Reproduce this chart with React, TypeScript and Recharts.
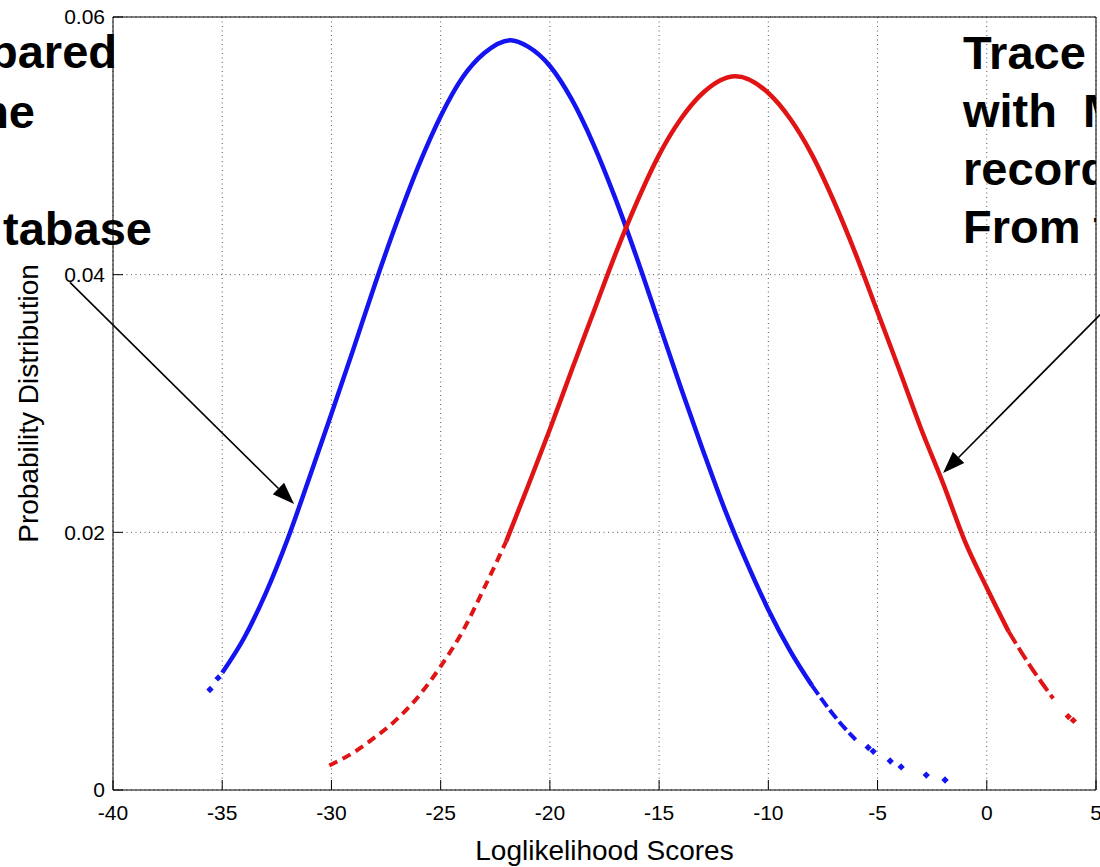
import {
  CartesianGrid,
  ComposedChart,
  Label,
  Line,
  ReferenceLine,
  Scatter,
  XAxis,
  YAxis,
} from "recharts";

const X_TICKS = [-40, -35, -30, -25, -20, -15, -10, -5, 0, 5];
const Y_TICKS = [0, 0.02, 0.04, 0.06];

// blue: compared against the database
const BLUE_LINE = [
  { x: -35, y: 0.0091 },
  { x: -34, y: 0.0118 },
  { x: -33, y: 0.0153 },
  { x: -32, y: 0.0195 },
  { x: -31, y: 0.0243 },
  { x: -30, y: 0.0292 },
  { x: -29, y: 0.0342 },
  { x: -28, y: 0.0393 },
  { x: -27, y: 0.0441 },
  { x: -26, y: 0.0485 },
  { x: -25, y: 0.0523 },
  { x: -24, y: 0.0553 },
  { x: -23, y: 0.0572 },
  { x: -21.8, y: 0.0582 },
  { x: -21, y: 0.0577 },
  { x: -20, y: 0.0562 },
  { x: -19, y: 0.0536 },
  { x: -18, y: 0.0501 },
  { x: -17, y: 0.0459 },
  { x: -16, y: 0.0412 },
  { x: -15, y: 0.0362 },
  { x: -14, y: 0.0312 },
  { x: -13, y: 0.0264 },
  { x: -12, y: 0.0218 },
  { x: -11, y: 0.0177 },
  { x: -10, y: 0.014 },
  { x: -9, y: 0.0108 },
  { x: -8, y: 0.0081 },
];
const BLUE_TAIL = [
  { x: -8, y: 0.0081 },
  { x: -7, y: 0.0058 },
  { x: -6.5, y: 0.0048 },
  { x: -6, y: 0.0039 },
];
const BLUE_DOTS = [
  { x: -35.56, y: 0.0078 },
  { x: -35.19, y: 0.0087 },
  { x: -5.43, y: 0.0033 },
  { x: -5.2, y: 0.003 },
  { x: -4.42, y: 0.00225 },
  { x: -3.92, y: 0.00179 },
  { x: -2.77, y: 0.00116 },
  { x: -1.91, y: 0.00078 },
];

// red: trace recorded
const RED_SPARSE = [
  { x: -30.1, y: 0.0019 },
  { x: -29, y: 0.0029 },
  { x: -28, y: 0.0041 },
  { x: -27, y: 0.0055 },
  { x: -26, y: 0.0073 },
  { x: -25, y: 0.0096 },
  { x: -24, y: 0.0123 },
  { x: -23, y: 0.0157 },
  { x: -22, y: 0.0193 },
];
const RED_LINE = [
  { x: -22, y: 0.0193 },
  { x: -21, y: 0.0236 },
  { x: -20, y: 0.028 },
  { x: -19, y: 0.0326 },
  { x: -18, y: 0.0371 },
  { x: -17, y: 0.0416 },
  { x: -16, y: 0.0457 },
  { x: -15, y: 0.0493 },
  { x: -14, y: 0.0521 },
  { x: -13, y: 0.0541 },
  { x: -11.5, y: 0.0554 },
  { x: -10, y: 0.0541 },
  { x: -9, y: 0.0521 },
  { x: -8, y: 0.0493 },
  { x: -7, y: 0.0457 },
  { x: -6, y: 0.0416 },
  { x: -5, y: 0.0371 },
  { x: -4, y: 0.0326 },
  { x: -3, y: 0.028 },
  { x: -2, y: 0.0238 },
  { x: -1, y: 0.0193 },
  { x: 0, y: 0.0157 },
  { x: 1, y: 0.0123 },
];
const RED_TAIL = [
  { x: 1, y: 0.0123 },
  { x: 2, y: 0.0096 },
  { x: 3.04, y: 0.0071 },
];
const RED_DOTS = [
  { x: 3.73, y: 0.0057 },
  { x: 3.96, y: 0.0054 },
];

const LEFT_NOTE = ["pared", "he", "", "tabase"];
const RIGHT_NOTE = ["Trace", "with  M", "record", "From t"];

const LEFT_ARROW = [
  { x: -41.97, y: 0.0394 },
  { x: -31.71, y: 0.0222 },
];
const RIGHT_ARROW = [
  { x: 5.19, y: 0.0369 },
  { x: -2.0, y: 0.0246 },
];

const BLUE = "#1414f0";
const RED = "#e01414";
const FONT = "'Liberation Sans', Arial, Helvetica, sans-serif";

function Arrow(props: any) {
  const { x1, y1, x2, y2 } = props;
  const a = Math.atan2(y2 - y1, x2 - x1);
  const len = 22;
  const hw = 8;
  const bx = x2 - len * Math.cos(a);
  const by = y2 - len * Math.sin(a);
  const px = -Math.sin(a) * hw;
  const py = Math.cos(a) * hw;
  return (
    <g>
      <line x1={x1} y1={y1} x2={bx} y2={by} stroke="#000" strokeWidth={1.6} />
      <polygon
        points={`${x2},${y2} ${bx + px},${by + py} ${bx - px},${by - py}`}
        fill="#000"
      />
    </g>
  );
}

const diamond = (color: string) => (p: any) =>
  (
    <rect
      x={p.cx - 2.6}
      y={p.cy - 2.6}
      width={5.2}
      height={5.2}
      fill={color}
      transform={`rotate(45 ${p.cx} ${p.cy})`}
    />
  );

const fmtY = (v: number) => (v === 0 ? "0" : v.toFixed(2));

export default function App() {
  const tickStyle = { fontSize: 21, fill: "#000", fontFamily: FONT };
  return (
    <div
      style={{
        position: "absolute",
        left: 0,
        top: 0,
        width: 1100,
        height: 867,
        background: "#fff",
        fontFamily: FONT,
      }}
    >
      <ComposedChart
        width={1100}
        height={867}
        margin={{ top: 16, right: 3, bottom: 0, left: 0 }}
      >
        <CartesianGrid stroke="#555" strokeDasharray="1 3.5" />
        <XAxis
          dataKey="x"
          type="number"
          domain={[-40, 5]}
          ticks={X_TICKS}
          interval={0}
          allowDataOverflow
          height={77}
          tickSize={-10}
          tickMargin={25}
          tick={tickStyle}
          stroke="#000"
        >
          <Label
            value="Loglikelihood Scores"
            position="insideBottom"
            offset={7}
            fontSize={28}
            fill="#000"
          />
        </XAxis>
        <XAxis
          xAxisId="top"
          orientation="top"
          dataKey="x"
          type="number"
          domain={[-40, 5]}
          ticks={X_TICKS}
          interval={0}
          allowDataOverflow
          height={1}
          tickSize={-10}
          tick={false}
          stroke="#000"
        />
        <YAxis
          type="number"
          domain={[0, 0.06]}
          ticks={Y_TICKS}
          interval={0}
          allowDataOverflow
          width={113}
          tickSize={-10}
          tickMargin={18}
          tickFormatter={fmtY}
          tick={tickStyle}
          stroke="#000"
        >
          <Label
            value="Probability Distribution"
            angle={-90}
            position="insideLeft"
            offset={28}
            fontSize={28}
            fill="#000"
            style={{ textAnchor: "middle" }}
          />
        </YAxis>
        <YAxis
          yAxisId="right"
          orientation="right"
          type="number"
          domain={[0, 0.06]}
          ticks={Y_TICKS}
          interval={0}
          allowDataOverflow
          width={1}
          tickSize={-10}
          tick={false}
          stroke="#000"
        />
        <Line
          data={BLUE_LINE}
          dataKey="y"
          type="monotone"
          stroke={BLUE}
          strokeWidth={4.5}
          dot={false}
          isAnimationActive={false}
        />
        <Line
          data={BLUE_TAIL}
          dataKey="y"
          type="monotone"
          stroke={BLUE}
          strokeWidth={4}
          strokeDasharray="11 4"
          dot={false}
          isAnimationActive={false}
        />
        <Line
          data={RED_SPARSE}
          dataKey="y"
          type="monotone"
          stroke={RED}
          strokeWidth={4}
          strokeDasharray="9 6"
          dot={false}
          isAnimationActive={false}
        />
        <Line
          data={RED_LINE}
          dataKey="y"
          type="monotone"
          stroke={RED}
          strokeWidth={4.5}
          dot={false}
          isAnimationActive={false}
        />
        <Line
          data={RED_TAIL}
          dataKey="y"
          type="monotone"
          stroke={RED}
          strokeWidth={4}
          strokeDasharray="14 5"
          dot={false}
          isAnimationActive={false}
        />
        <Scatter
          data={BLUE_DOTS}
          dataKey="y"
          fill={BLUE}
          shape={diamond(BLUE)}
          isAnimationActive={false}
        />
        <Scatter
          data={RED_DOTS}
          dataKey="y"
          fill={RED}
          shape={diamond(RED)}
          isAnimationActive={false}
        />
        <ReferenceLine
          segment={LEFT_ARROW}
          ifOverflow="visible"
          shape={Arrow}
        />
        <ReferenceLine
          segment={RIGHT_ARROW}
          ifOverflow="visible"
          shape={Arrow}
        />
      </ComposedChart>
      <svg
        width={1100}
        height={867}
        style={{ position: "absolute", left: 0, top: 0, pointerEvents: "none" }}
      >
        <defs>
          <clipPath id="noteClip">
            <rect x={0} y={0} width={1096} height={867} />
          </clipPath>
        </defs>
        <g fontFamily={FONT} fontWeight="bold" fontSize={47} fill="#000">
          {LEFT_NOTE.map((t, i) =>
            t ? (
              <text
                key={"l" + i}
                x={[117, 35, 0, 152][i]}
                y={[68, 128, 186, 245][i]}
                textAnchor="end"
              >
                {t}
              </text>
            ) : null
          )}
          <g clipPath="url(#noteClip)">
            {RIGHT_NOTE.map((t, i) => (
              <text
                key={"r" + i}
                x={963}
                y={69 + i * 58}
                style={{ whiteSpace: "pre" }}
              >
                {t}
              </text>
            ))}
          </g>
        </g>
      </svg>
    </div>
  );
}
